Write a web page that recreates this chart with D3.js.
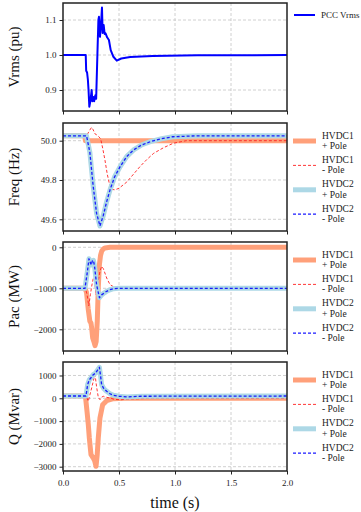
<!DOCTYPE html>
<html>
<head>
<meta charset="utf-8">
<script src="https://d3js.org/d3.v7.min.js"></script>
<style>
  body { margin: 0; background: #fff; }
  svg { display: block; font-family: "Liberation Serif", "Times New Roman", serif; }
  .grid line { stroke: #c4c4c4; stroke-width: 0.8; stroke-dasharray: 3,2; }
  .tick text { font-size: 9px; fill: #222; font-family: "Liberation Serif", "Times New Roman", serif; }
  .axis path { display: none; }
  .axis .tick line { stroke: #222; }
</style>
</head>
<body>
<div id="chart"></div>
<script>
// time ticks (s)
const timeTicks = [0, 0.5, 1.0, 1.5, 2.0];

// PCC voltage (pu), [t, value]
const vrms = [[0,1.0],[0.203,1.0],[0.207,0.955],[0.215,0.95],[0.222,0.93],[0.228,0.9],[0.235,0.852],
  [0.245,0.87],[0.256,0.9],[0.262,0.868],[0.27,0.88],[0.278,0.868],[0.289,0.885],[0.296,0.875],
  [0.307,1.0],[0.316,1.10],[0.321,1.109],[0.33,1.052],[0.34,1.09],[0.348,1.136],[0.354,1.063],
  [0.363,1.086],[0.372,1.06],[0.38,1.062],[0.395,1.05],[0.41,1.043],[0.426,1.014],[0.45,0.995],
  [0.48,0.984],[0.52,0.99],[0.6,0.994],[0.8,0.997],[1.2,0.999],[2.0,1.0]];

// frequency (Hz)
const freqH1p = [[0,50.025],[0.195,50.025],[0.2,50.0],[2.0,50.0]];
const freqH1n = [[0,50.025],[0.21,50.025],[0.235,50.05],[0.255,50.068],[0.27,50.055],[0.285,50.035],
  [0.30,50.03],[0.32,50.02],[0.336,50.01],[0.355,49.96],[0.375,49.90],[0.395,49.83],[0.42,49.766],
  [0.44,49.752],[0.464,49.75],[0.5,49.758],[0.57,49.79],[0.63,49.83],[0.69,49.87],[0.75,49.905],
  [0.81,49.936],[0.9,49.965],[0.985,49.987],[1.1,50.0],[2.0,50.0]];
const freqH2 = [[0,50.025],[0.21,50.025],[0.24,49.94],[0.27,49.766],[0.30,49.63],[0.33,49.566],
  [0.36,49.62],[0.39,49.69],[0.42,49.75],[0.46,49.815],[0.51,49.868],[0.57,49.92],[0.63,49.953],
  [0.7,49.978],[0.78,49.995],[0.88,50.01],[0.98,50.02],[1.2,50.025],[2.0,50.025]];

// active power (MW)
const pacH1p = [[0,-1000],[0.196,-1000],[0.21,-1100],[0.225,-1500],[0.24,-1805],[0.25,-1850],
  [0.256,-1968],[0.265,-2212],[0.276,-2300],[0.286,-2400],[0.296,-2300],[0.306,-1800],[0.315,-990],
  [0.325,-424],[0.335,-200],[0.345,-98],[0.36,-40],[0.375,-17],[0.42,0],[2.0,0]];
const pacH1n = [[0,-1000],[0.2,-1000],[0.215,-1150],[0.23,-1430],[0.245,-1150],[0.256,-951],
  [0.27,-760],[0.28,-790],[0.295,-1156],[0.31,-900],[0.33,-585],[0.345,-465],[0.36,-520],
  [0.39,-749],[0.42,-912],[0.45,-960],[0.48,-990],[0.55,-1000],[2.0,-1000]];
const pacH2 = [[0,-1000],[0.196,-1000],[0.215,-650],[0.232,-280],[0.245,-380],[0.253,-430],
  [0.262,-330],[0.272,-320],[0.282,-470],[0.30,-912],[0.325,-1230],[0.345,-1160],[0.37,-1110],
  [0.39,-1073],[0.42,-1035],[0.45,-1010],[0.5,-1000],[2.0,-1000]];

// reactive power (Mvar)
const qH1p = [[0,100],[0.2,100],[0.205,-132],[0.215,-600],[0.226,-1157],[0.235,-1741],[0.25,-2473],
  [0.27,-2618],[0.283,-2750],[0.295,-2984],[0.305,-2500],[0.315,-1741],[0.33,-864],[0.354,-281],
  [0.39,-105],[0.45,-18],[0.55,0],[2.0,0]];
const qH1n = [[0,100],[0.205,100],[0.215,0],[0.226,-132],[0.24,150],[0.256,452],[0.275,850],
  [0.286,1035],[0.3,500],[0.315,50],[0.33,-61],[0.345,50],[0.36,88],[0.39,40],[0.42,13],
  [0.46,-50],[0.52,-60],[0.6,-30],[0.8,0],[2.0,0]];
const qH2 = [[0,100],[0.205,100],[0.22,600],[0.235,816],[0.25,900],[0.27,1035],[0.29,1100],
  [0.31,1250],[0.325,1360],[0.335,1000],[0.345,596],[0.365,420],[0.39,307],[0.42,200],[0.45,130],
  [0.5,90],[0.57,60],[0.7,90],[2.0,100]];

const legendNames = [["HVDC1", "+ Pole"], ["HVDC1", "- Pole"], ["HVDC2", "+ Pole"], ["HVDC2", "- Pole"]];

const styles = [
  { color: "#ffa07a", width: 5, dash: null },
  { color: "#ff2020", width: 0.9, dash: "3,2" },
  { color: "#add8e6", width: 5, dash: null },
  { color: "#1a1aff", width: 1.3, dash: "3,2" }
];

const panels = [
  { label: "Vrms (pu)", top: 3, bottom: 111, domain: [0.84, 1.1486], ticks: [0.9, 1.0, 1.1], fmt: d3.format(".1f"),
    series: [vrms], single: true },
  { label: "Freq (Hz)", top: 123, bottom: 231, domain: [49.5405, 50.090], ticks: [49.6, 49.8, 50.0], fmt: d3.format(".1f"),
    series: [freqH1p, freqH1n, freqH2, freqH2] },
  { label: "Pac (MW)", top: 242, bottom: 351, domain: [-2529, 129], ticks: [-2000, -1000, 0], fmt: d3.format("d"),
    series: [pacH1p, pacH1n, pacH2, pacH2] },
  { label: "Q (Mvar)", top: 362, bottom: 471, domain: [-3189, 1592], ticks: [-3000, -2000, -1000, 0, 1000], fmt: d3.format("d"),
    series: [qH1p, qH1n, qH2, qH2] }
];

const width = 361, height = 512;
const left = 63, right = 287;

const svg = d3.select("#chart").append("svg")
  .attr("width", width)
  .attr("height", height);

const x = d3.scaleLinear().domain([0, 2]).range([left, right]);

panels.forEach((p, i) => {
  const y = d3.scaleLinear().domain(p.domain).range([p.bottom, p.top]);
  const g = svg.append("g");

  // grid
  const grid = g.append("g").attr("class", "grid");
  grid.selectAll("line.v").data(timeTicks.slice(1, -1)).enter().append("line")
    .attr("x1", d => x(d)).attr("x2", d => x(d))
    .attr("y1", p.top).attr("y2", p.bottom);
  grid.selectAll("line.h").data(p.ticks).enter().append("line")
    .attr("x1", left).attr("x2", right)
    .attr("y1", d => y(d)).attr("y2", d => y(d));

  const clipId = "clip" + i;
  svg.append("clipPath").attr("id", clipId).append("rect")
    .attr("x", left).attr("y", p.top).attr("width", right - left).attr("height", p.bottom - p.top);

  const line = d3.line().x(d => x(d[0])).y(d => y(d[1]));
  const lines = g.append("g").attr("clip-path", `url(#${clipId})`);

  if (p.single) {
    lines.append("path").datum(p.series[0])
      .attr("d", line).attr("fill", "none")
      .attr("stroke", "#0000ff").attr("stroke-width", 2).attr("stroke-linejoin", "round");
  } else {
    p.series.forEach((s, k) => {
      const st = styles[k];
      lines.append("path").datum(s)
        .attr("d", line).attr("fill", "none")
        .attr("stroke", st.color).attr("stroke-width", st.width)
        .attr("stroke-dasharray", st.dash)
        .attr("stroke-linejoin", "round");
    });
  }

  // y axis
  g.append("g").attr("class", "axis")
    .attr("transform", `translate(${left},0)`)
    .call(d3.axisLeft(y).tickValues(p.ticks).tickFormat(d => p.fmt(d).replace("-", "\u2212")).tickSize(3.5).tickPadding(3));

  // x axis (ticks only, labels on bottom panel)
  const xa = g.append("g").attr("class", "axis")
    .attr("transform", `translate(0,${p.bottom})`)
    .call(d3.axisBottom(x).tickValues(timeTicks).tickFormat(d3.format(".1f")).tickSize(3.5).tickPadding(5));
  if (i < panels.length - 1) xa.selectAll("text").remove();

  // frame
  g.append("rect")
    .attr("x", left).attr("y", p.top)
    .attr("width", right - left).attr("height", p.bottom - p.top)
    .attr("fill", "none").attr("stroke", "#222").attr("stroke-width", 1.5);

  // y label
  svg.append("text")
    .attr("transform", `translate(19,${(p.top + p.bottom) / 2}) rotate(-90)`)
    .attr("text-anchor", "middle")
    .attr("font-size", 15)
    .attr("fill", "#111")
    .text(p.label);

  // legend
  const lg = svg.append("g");
  if (p.single) {
    lg.append("line").attr("x1", 294).attr("x2", 315).attr("y1", 15).attr("y2", 15)
      .attr("stroke", "#0000ff").attr("stroke-width", 2);
    lg.append("text").attr("x", 321).attr("y", 18.2).attr("font-size", 9).attr("fill", "#222").text("PCC Vrms");
  } else {
    legendNames.forEach((nm, k) => {
      const ly = p.top + 18 + k * 24.4;
      const st = styles[k];
      lg.append("line").attr("x1", 293).attr("x2", 316).attr("y1", ly).attr("y2", ly)
        .attr("stroke", st.color).attr("stroke-width", st.width)
        .attr("stroke-dasharray", st.dash);
      lg.append("text").attr("x", 322).attr("y", ly - 2.4).attr("font-size", 9.5).attr("fill", "#222").text(nm[0]);
      lg.append("text").attr("x", 322).attr("y", ly + 7.8).attr("font-size", 9.5).attr("fill", "#222").text(nm[1]);
    });
  }
});

// x label
svg.append("text")
  .attr("x", (left + right) / 2)
  .attr("y", 508)
  .attr("text-anchor", "middle")
  .attr("font-size", 16)
  .attr("fill", "#111")
  .text("time (s)");
</script>
</body>
</html>
